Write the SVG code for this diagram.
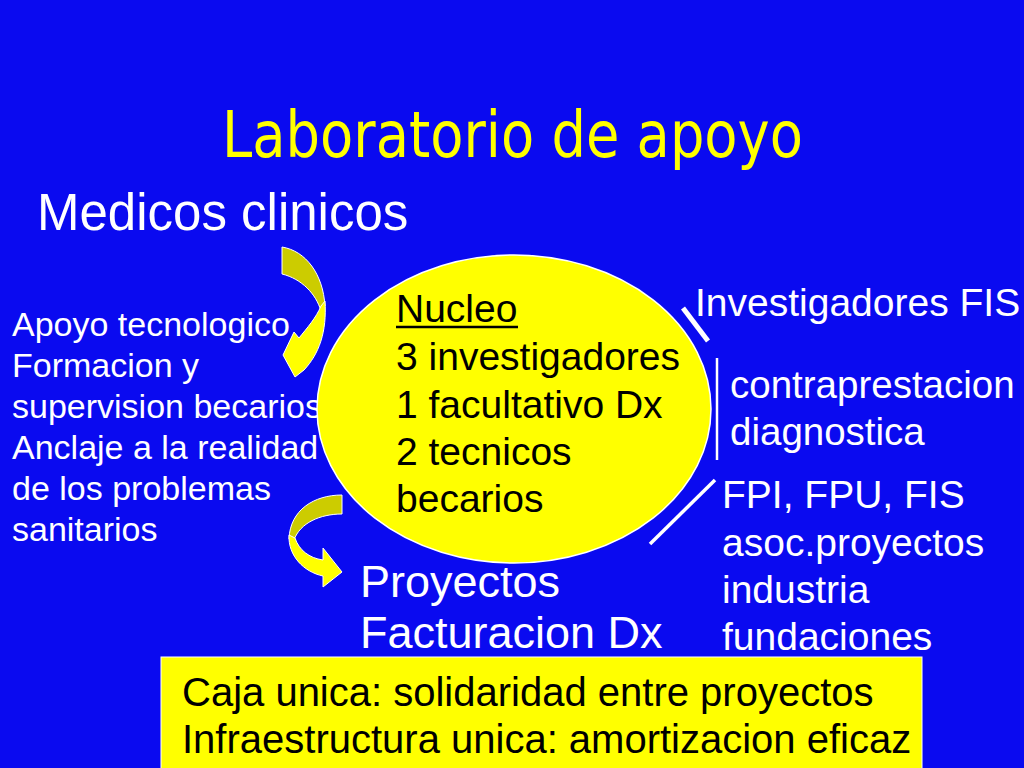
<svg xmlns="http://www.w3.org/2000/svg" width="1024" height="768" viewBox="0 0 1024 768">
<style>
.w{fill:#FFFFFF;font-family:"Liberation Sans",Arial,sans-serif}
.k{fill:#000000;font-family:"Liberation Sans",Arial,sans-serif}
.olive{fill:#CCCC00;stroke:#FFFFFF;stroke-width:1}
.yel{fill:#FFFF00;stroke:#FFFFFF;stroke-width:1}
.conn{stroke:#FFFFFF;fill:none;stroke-linecap:butt}
</style>
<rect x="0" y="0" width="1024" height="768" fill="#0A0AF0"/>
<g id="title">
<text x="222" y="157" font-family="DejaVu Sans, sans-serif" font-size="64" fill="#FFFF00" textLength="581" lengthAdjust="spacingAndGlyphs">Laboratorio de apoyo</text>
</g>
<g id="medicos">
<text class="w" x="37" y="230" font-size="51">Medicos clinicos</text>
</g>
<g id="apoyo">
<text class="w" font-size="34">
<tspan x="12" y="336">Apoyo tecnologico</tspan>
<tspan x="12" y="377">Formacion y</tspan>
<tspan x="12" y="418">supervision becarios</tspan>
<tspan x="12" y="459">Anclaje a la realidad</tspan>
<tspan x="12" y="500">de los problemas</tspan>
<tspan x="12" y="541">sanitarios</tspan>
</text>
</g>
<g id="nucleo">
<ellipse cx="514" cy="409" rx="197" ry="154" fill="#FFFF00" stroke="#FFFFFF" stroke-width="1.5"/>
<text class="k" font-size="39">
<tspan x="396" y="322">Nucleo</tspan>
<tspan x="396" y="370">3 investigadores</tspan>
<tspan x="396" y="418">1 facultativo Dx</tspan>
<tspan x="396" y="465">2 tecnicos</tspan>
<tspan x="396" y="512">becarios</tspan>
</text>
<line x1="396" y1="327" x2="518" y2="327" stroke="#000000" stroke-width="2.5"/>
</g>
<g id="investigadores">
<text class="w" x="695" y="316" font-size="39">Investigadores FIS</text>
</g>
<g id="contraprestacion">
<text class="w" font-size="38.5">
<tspan x="730" y="398">contraprestacion</tspan>
<tspan x="730" y="445">diagnostica</tspan>
</text>
</g>
<g id="financiacion">
<text class="w" font-size="39">
<tspan x="722" y="508">FPI, FPU, FIS</tspan>
<tspan x="722" y="556">asoc.proyectos</tspan>
<tspan x="722" y="603">industria</tspan>
<tspan x="722" y="650">fundaciones</tspan>
</text>
</g>
<g id="proyectos">
<text class="w" font-size="45">
<tspan x="360" y="597">Proyectos</tspan>
<tspan x="360" y="648">Facturacion Dx</tspan>
</text>
</g>
<g id="caja">
<rect x="161" y="657" width="761" height="115" fill="#FFFF00" stroke="#FFFFFF" stroke-width="1"/>
<text class="k" font-size="40">
<tspan x="182" y="706">Caja unica: solidaridad entre proyectos</tspan>
<tspan x="182" y="753">Infraestructura unica: amortizacion eficaz</tspan>
</text>
</g>
<g id="connectors">
<path class="olive" d="M282,247 C306,251 323,274 325,306 L321,311 C316,294 302,279 282,274 Z"/>
<path class="yel" d="M325,301 C327,332 319,354 304,370 L295,377 L283,355 L294,332 L299,338 C307,328 316,318 321,306 Z"/>
<path class="olive" d="M342,495 C314,495 290,510 289,539 L294,540 C300,523 320,514 342,514 Z"/>
<path class="yel" d="M289,535 C288,556 304,572 323,576 L323,587 L342,572 L323,548 L323,560 C309,558 299,550 295,538 Z"/>
<line class="conn" x1="683" y1="308" x2="708" y2="341" stroke-width="5"/>
<line class="conn" x1="717" y1="358" x2="717" y2="460" stroke-width="2.5"/>
<line class="conn" x1="715" y1="480" x2="650" y2="544" stroke-width="3.5"/>
</g>
</svg>
